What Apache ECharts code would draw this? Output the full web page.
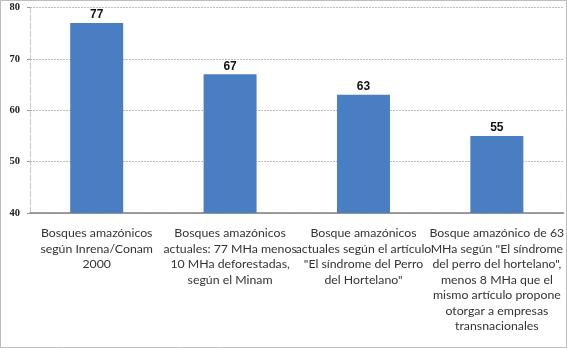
<!DOCTYPE html>
<html>
<head>
<meta charset="utf-8">
<script src="https://cdn.jsdelivr.net/npm/echarts@6/dist/echarts.min.js"></script>
<style>html,body{margin:0;padding:0;background:#fff}#c{width:567px;height:348px}</style>
</head>
<body>
<div id="c"></div>
<script>
const categories = [
  "Bosques amazónicos\nsegún Inrena/Conam\n2000",
  "Bosques amazónicos\nactuales: 77 MHa menos\n10 MHa deforestadas,\nsegún el Minam",
  "Bosque amazónicos\nactuales según el artículo\n\"El síndrome del Perro\ndel Hortelano\"",
  "Bosque amazónico de 63\nMHa según \"El síndrome\ndel perro del hortelano\",\nmenos 8 MHa que el\nmismo artículo propone\notorgar a empresas\ntransnacionales"
];
const values = [77, 67, 63, 55];
const yTicks = [40, 50, 60, 70, 80];

const chart = echarts.init(document.getElementById('c'), null, {renderer: 'canvas'});
chart.setOption({
  animation: false,
  grid: {left: 30, right: 1.5, top: 7.5, bottom: 135, containLabel: false},
  graphic: [{
    type: 'rect', shape: {x: 0.5, y: 0.5, width: 566, height: 347},
    style: {fill: 'none', stroke: '#7a7a7a', lineWidth: 1, lineDash: [1, 1]}, silent: true, z: 100
  }],
  xAxis: {
    type: 'category', data: categories,
    axisLine: {lineStyle: {color: '#808080', width: 1.5}},
    axisTick: {show: false},
    axisLabel: {interval: 0, margin: 12.5, lineHeight: 15.5, color: '#333', fontFamily: 'Lato', fontSize: 12.3, align: 'center'}
  },
  yAxis: {
    type: 'value', min: yTicks[0], max: yTicks[yTicks.length - 1], interval: 10,
    axisLine: {show: true, lineStyle: {color: '#c8c8c8', type: [6, 2]}},
    axisTick: {show: true, length: 3, lineStyle: {color: '#999'}},
    axisLabel: {margin: 10, color: '#222', fontFamily: 'Liberation Serif', fontWeight: 'bold', fontSize: 10.5},
    splitLine: {lineStyle: {color: '#bdbdbd', type: [2, 1]}}
  },
  series: [{
    type: 'bar', data: values, barWidth: 53,
    itemStyle: {color: '#4a7ec2'},
    label: {show: true, position: 'top', distance: 2, color: '#111', fontFamily: 'Liberation Sans', fontWeight: 'bold', fontSize: 12}
  }]
});
</script>
</body>
</html>
